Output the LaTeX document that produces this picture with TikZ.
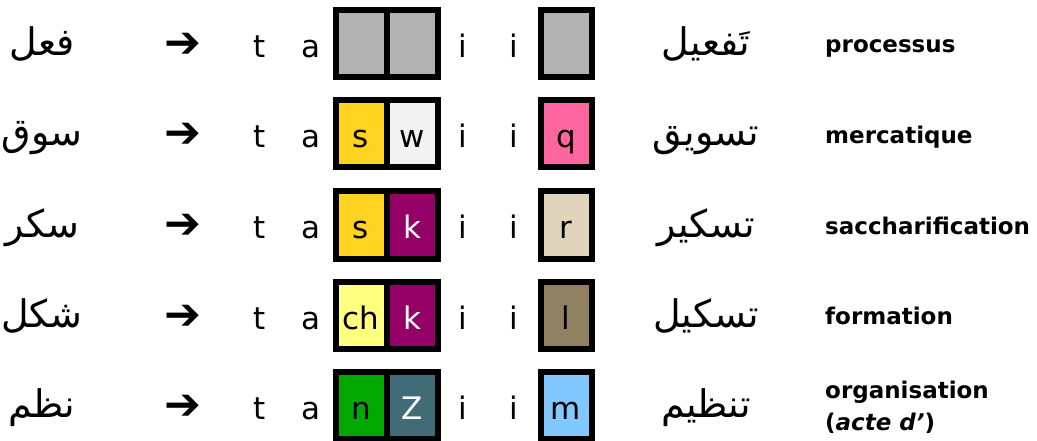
\documentclass[tikz,border=0pt]{standalone}
\usepackage{fontspec}
\setmainfont{DejaVu Sans}
\newfontfamily\arabicfont[Script=Arabic]{DejaVu Sans}
\newfontfamily\arrowfont{DejaVu Sans}
\TeXXeTstate=1
\definecolor{cgray}{HTML}{B2B2B2}
\definecolor{cyel}{HTML}{FFD320}
\definecolor{cwhite}{HTML}{F2F2F2}
\definecolor{cpink}{HTML}{FF66A0}
\definecolor{cpurple}{HTML}{930066}
\definecolor{cbeige}{HTML}{E0D4BB}
\definecolor{clyel}{HTML}{FFFF80}
\definecolor{cbrown}{HTML}{8F8062}
\definecolor{cgreen}{HTML}{00A800}
\definecolor{cteal}{HTML}{406B77}
\definecolor{cblue}{HTML}{80C8FF}
\begin{document}
\begin{tikzpicture}[x=1pt,y=-1pt,
  cell/.style={draw=black, line width=6pt, minimum width=51pt, minimum height=67pt,
    inner sep=0pt, text height=28pt, text depth=0pt, font=\fontsize{31}{37}\selectfont},
  lat/.style={inner sep=0pt, text height=28pt, text depth=0pt, font=\fontsize{31}{37}\selectfont},
  arw/.style={inner sep=0pt, text height=28pt, text depth=0pt, font=\arrowfont\fontsize{44}{50}\selectfont},
  arab/.style={inner sep=0pt, text height=24pt, text depth=0pt, font=\arabicfont\fontsize{38}{44}\selectfont},
  lab/.style={inner sep=0pt, anchor=base west, font=\bfseries\fontsize{23}{32}\selectfont, align=left}
]
\useasboundingbox (0,0) rectangle (1037,441);
% row 1
\node[arab] (a1) at (42,43.5) {\beginR فعل\endR};
\node[arw] (p1) at (183,43.5) {➔};
\node[lat] (t1) at (260,43.5) {t};
\node[lat] (v1) at (311,43.5) {a};
\node[cell,fill=cgray] (c11) at (361,43.5) {};
\node[cell,fill=cgray] (c12) at (412,43.5) {};
\node[lat] (i11) at (463,43.5) {i};
\node[lat] (i12) at (514,43.5) {i};
\node[cell,fill=cgray] (c13) at (566,43.5) {};
\node[arab] (b1) at (706,43.5) {\beginR تَفعيل\endR};
\node[lab] (l1) at (825,53) {processus};
% row 2
\node[arab] (a2) at (42,134) {\beginR سوق\endR};
\node[arw] (p2) at (183,134) {➔};
\node[lat] (t2) at (260,134) {t};
\node[lat] (v2) at (311,134) {a};
\node[cell,fill=cyel] (c21) at (361,134) {s};
\node[cell,fill=cwhite] (c22) at (412,134) {w};
\node[lat] (i21) at (463,134) {i};
\node[lat] (i22) at (514,134) {i};
\node[cell,fill=cpink] (c23) at (566,134) {q};
\node[arab] (b2) at (706,134) {\beginR تسويق\endR};
\node[lab] (l2) at (825,143.5) {mercatique};
% row 3
\node[arab] (a3) at (42,225) {\beginR سكر\endR};
\node[arw] (p3) at (183,225) {➔};
\node[lat] (t3) at (260,225) {t};
\node[lat] (v3) at (311,225) {a};
\node[cell,fill=cyel] (c31) at (361,225) {s};
\node[cell,fill=cpurple,text=white] (c32) at (412,225) {k};
\node[lat] (i31) at (463,225) {i};
\node[lat] (i32) at (514,225) {i};
\node[cell,fill=cbeige] (c33) at (566,225) {r};
\node[arab] (b3) at (706,225) {\beginR تسكير\endR};
\node[lab] (l3) at (825,234.5) {saccharification};
% row 4
\node[arab] (a4) at (42,315) {\beginR شكل\endR};
\node[arw] (p4) at (183,315) {➔};
\node[lat] (t4) at (260,315) {t};
\node[lat] (v4) at (311,315) {a};
\node[cell,fill=clyel] (c41) at (361,315) {ch};
\node[cell,fill=cpurple,text=white] (c42) at (412,315) {k};
\node[lat] (i41) at (463,315) {i};
\node[lat] (i42) at (514,315) {i};
\node[cell,fill=cbrown] (c43) at (566,315) {l};
\node[arab] (b4) at (706,315) {\beginR تسكيل\endR};
\node[lab] (l4) at (825,324.5) {formation};
% row 5
\node[arab] (a5) at (42,405) {\beginR نظم\endR};
\node[arw] (p5) at (183,405) {➔};
\node[lat] (t5) at (260,405) {t};
\node[lat] (v5) at (311,405) {a};
\node[cell,fill=cgreen] (c51) at (361,405) {n};
\node[cell,fill=cteal,text=white] (c52) at (412,405) {Z};
\node[lat] (i51) at (463,405) {i};
\node[lat] (i52) at (514,405) {i};
\node[cell,fill=cblue] (c53) at (566,405) {m};
\node[arab] (b5) at (706,405) {\beginR تنظيم\endR};
\node[lab] (l5) at (825,430) {organisation\\(\textit{acte d’})};
\end{tikzpicture}
\end{document}
